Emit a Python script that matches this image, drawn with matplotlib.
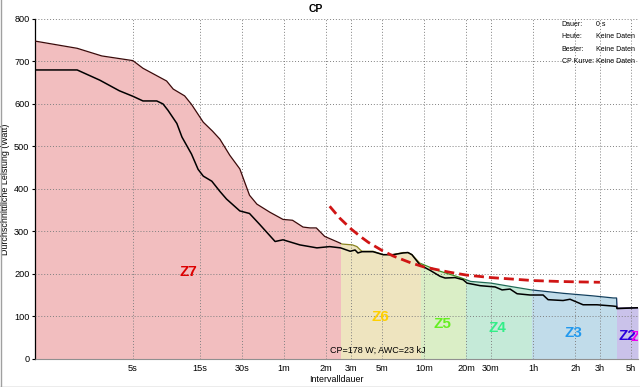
import matplotlib
matplotlib.use("Agg")
import matplotlib.pyplot as plt
from matplotlib.patches import Rectangle
from matplotlib.ticker import FixedLocator, NullLocator, FixedFormatter
from matplotlib.lines import Line2D

plt.rcParams['font.family'] = ['Liberation Sans', 'DejaVu Sans']

# ---------------- data ----------------
# best (upper, filled) power-duration curve: seconds, watts
best_t = [1, 2, 3, 5, 5.9, 8.7, 9.7, 11.7, 13.1, 15.9, 18.5, 20.9, 24.6, 29, 34,
          38.4, 47.5, 59, 69, 82, 92, 102, 117, 142, 156, 185, 199, 209, 216,
          259, 306, 360, 425, 460, 491, 560, 663, 780, 1090, 1290, 1800, 2500,
          3500, 5900, 9600, 13500, 14200, 14300, 20200]
best_w = [748, 731, 713, 702, 684, 654, 635, 619, 599, 557, 536, 517, 479, 447, 385,
          364, 345, 328, 326, 310, 308, 308, 288, 276, 270, 268, 264, 257, 253,
          253, 245, 245, 250, 250, 245, 225, 215, 206, 191, 182, 178, 170,
          162, 154, 148, 143, 143, 119, 120]

# current (lower, black) curve
low_t = [1, 2, 2.9, 4.0, 5, 5.9, 7.4, 8.2, 8.9, 10.3, 11.2, 13.1, 14.6, 15.9, 18.3,
         20.9, 23.3, 29, 34, 40, 51.8, 59, 77.8, 103, 127, 152, 178, 193, 202, 216,
         259, 306, 360, 425, 460, 491, 560, 663, 780, 847, 998, 1138, 1216, 1506,
         1927, 2162, 2466, 2767, 3427, 4245, 4606, 5890, 6610, 8190, 10300, 13400,
         14200, 14300, 20200]
low_w = [680, 680, 656, 631, 618, 607, 607, 600, 585, 554, 522, 482, 446, 430, 418,
         394, 376, 348, 342, 317, 276, 280, 268, 261, 264, 261, 253, 256, 249, 252,
         252, 245, 245, 249, 250, 245, 221, 208, 194, 190, 191, 186, 178, 172,
         169, 162, 164, 153, 150, 150, 139, 137, 140, 127, 127, 124,
         123, 118, 120]

# CP model curve (CP=178 W, AWC=23 kJ)
cp_t = [127, 150, 180, 210, 240, 300, 360, 480, 600, 900, 1200, 1800, 2700, 3600,
        5400, 7200, 10800]
cp_w = [359, 331, 306, 288, 274, 255, 242, 226, 216, 204, 197, 191, 187, 184,
        182, 181, 180]
cp_text = "CP=178 W; AWC=23 kJ"

# zones
zone_names = ["Z7", "Z6", "Z5", "Z4", "Z3", "Z2"]
zone_edges = [1, 152, 570, 1190, 3540, 14200, 20200]
zone_fill = ['#F2BEBF', '#EEE4BF', '#DAEEC6', '#C5EAD8', '#C1DCEA', '#CAC2EA']
zone_edge = ['#3A0A0A', '#8A8420', '#3E8A22', '#1F6B55', '#12405E', '#2A1A60']
zone_label_col = ['#DD0000', '#FFD000', '#66EE22', '#33EE88', '#2299EE', '#2A00DD']
zone_label_pos = [(12.4, 205), (290, 99), (805, 82), (1990, 73), (6950, 61), (16900, 54)]

tick_secs = [5, 15, 30, 60, 120, 180, 300, 600, 1200, 1800, 3600, 7200, 10800, 18000]
tick_labels = ["5s", "15s", "30s", "1m", "2m", "3m", "5m", "10m", "20m", "30m",
               "1h", "2h", "3h", "5h"]
y_ticks = [0, 100, 200, 300, 400, 500, 600, 700, 800]

legend_keys = ["Dauer:", "Heute:", "Bester:", "CP Kurve:"]
legend_vals = ["0 s", "Keine Daten", "Keine Daten", "Keine Daten"]

# ---------------- figure ----------------
fig = plt.figure(figsize=(6.4, 3.87), dpi=100)
W, H = 640, 387
x0, x1, ytop, ybot = 35, 638, 19, 358.7
ax = fig.add_axes([x0 / W, 1 - ybot / H, (x1 - x0) / W, (ybot - ytop) / H])
ax.set_xscale('log')
ax.set_xlim(1, 20200)
ax.set_ylim(0, 800)

for i in range(len(zone_names)):
    a, b = zone_edges[i], zone_edges[i + 1]
    poly = ax.fill_between(best_t, 0, best_w, color=zone_fill[i], lw=0, zorder=1)
    rect = Rectangle((a, -10), b - a, 900, transform=ax.transData)
    poly.set_clip_path(rect)
    ln, = ax.plot(best_t, best_w, color=zone_edge[i], lw=0.9, zorder=3)
    rect2 = Rectangle((a, -10), b - a, 900, transform=ax.transData)
    ln.set_clip_path(rect2)

ax.plot(low_t, low_w, color='black', lw=1.1, zorder=4)
ax.plot(cp_t, cp_w, color='#D01515', lw=2.0, linestyle=(0, (3.6, 1.8)), zorder=5)

for i, name in enumerate(zone_names):
    tx, ty = zone_label_pos[i]
    ax.text(tx, ty, name, color=zone_label_col[i], fontsize=11, fontweight='bold',
            ha='center', va='center', zorder=6)
ax.text(18000, 50, "Z1", color='#EE00EE', fontsize=11, fontweight='bold',
        ha='left', va='center', zorder=6, clip_on=True)

ax.text(127, 19, cp_text, fontsize=6.5, ha='left', va='center', zorder=6)

ax.xaxis.set_major_locator(FixedLocator(tick_secs))
ax.xaxis.set_major_formatter(FixedFormatter(tick_labels))
ax.xaxis.set_minor_locator(NullLocator())
ax.set_yticks(y_ticks)
ax.tick_params(axis='x', length=0, labelsize=6.6, pad=4)
ax.tick_params(axis='y', length=2.5, labelsize=6.6, pad=1.5)

ax.set_axisbelow(False)
ax.grid(True, which='major', color='#808080', linestyle=(0, (1, 2)), linewidth=0.7)

for s in ['top', 'right']:
    ax.spines[s].set_visible(False)
ax.spines['left'].set_color('black')
ax.spines['left'].set_linewidth(0.9)
ax.spines['bottom'].set_color('#909090')
ax.spines['bottom'].set_linewidth(0.8)

ax.set_xlabel("Intervalldauer", fontsize=6.4, labelpad=1.5)
ax.set_ylabel("Durchschnittliche Leistung (Watt)", fontsize=6.4, labelpad=3)

fig.text(316 / W, 1 - 9 / H, "CP", fontsize=7.5, fontweight='bold', ha='center', va='center')

for i, (k, v) in enumerate(zip(legend_keys, legend_vals)):
    yy = 1 - (24 + i * 12.6) / H
    fig.text(561.5 / W, yy, k, fontsize=5, ha='left', va='center')
    fig.text(595.5 / W, yy, v, fontsize=5, ha='left', va='center')

# figure border (left and bottom)
fig.add_artist(Line2D([0.5 / W, 0.5 / W], [0, 1], color='#A0A0A0', lw=1, transform=fig.transFigure))
fig.add_artist(Line2D([0, 1], [0.5 / H, 0.5 / H], color='#A0A0A0', lw=1, transform=fig.transFigure))

fig.savefig("out.png", dpi=100)
